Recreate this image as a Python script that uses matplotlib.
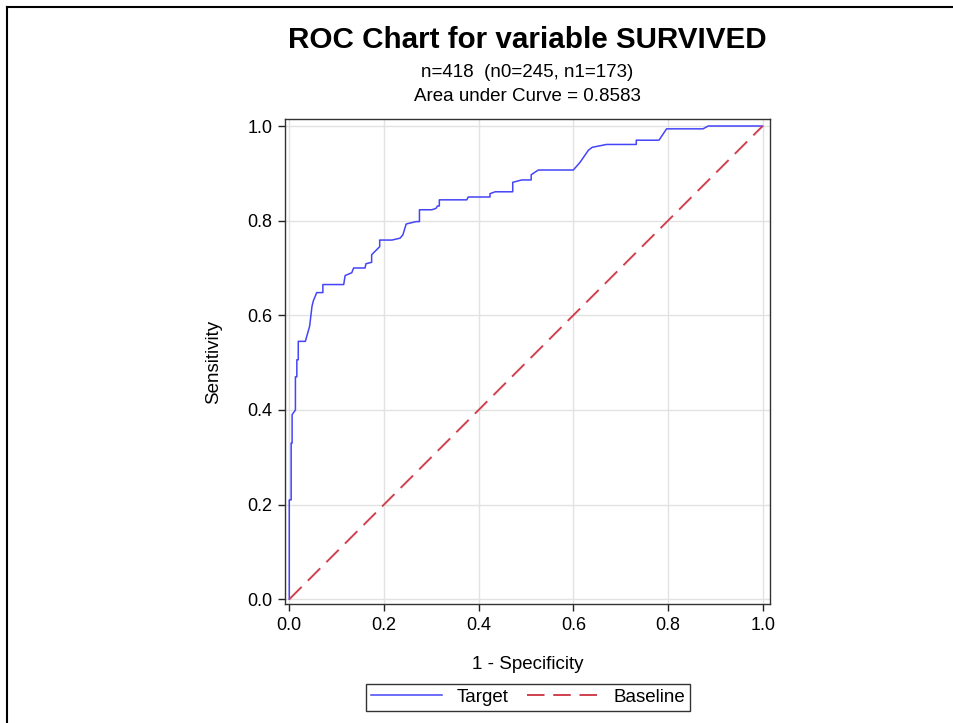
import numpy as np
import matplotlib.pyplot as plt
from matplotlib.lines import Line2D

plt.rcParams['font.family'] = ['Liberation Sans', 'DejaVu Sans']

# ROC curve (1 - specificity, sensitivity)
fpr = [0.0, 0.0, 0.004, 0.004, 0.006, 0.006, 0.013, 0.013, 0.016, 0.016,
       0.019, 0.019, 0.034, 0.043, 0.048, 0.051, 0.058, 0.071, 0.071, 0.115,
       0.118, 0.132, 0.136, 0.160, 0.162, 0.174, 0.174, 0.191, 0.191, 0.217,
       0.234, 0.240, 0.247, 0.268, 0.275, 0.275, 0.301, 0.310, 0.313, 0.317,
       0.317, 0.375, 0.378, 0.424, 0.424, 0.435, 0.472, 0.472, 0.491, 0.511,
       0.511, 0.526, 0.600, 0.614, 0.632, 0.640, 0.670, 0.733, 0.733, 0.781,
       0.797, 0.874, 0.885, 1.0]
tpr = [0.0, 0.21, 0.21, 0.33, 0.33, 0.39, 0.40, 0.47, 0.47, 0.506,
       0.506, 0.545, 0.545, 0.577, 0.619, 0.631, 0.648, 0.648, 0.665, 0.665,
       0.684, 0.690, 0.700, 0.700, 0.709, 0.712, 0.728, 0.745, 0.759, 0.759,
       0.763, 0.770, 0.793, 0.798, 0.798, 0.823, 0.823, 0.826, 0.831, 0.831,
       0.844, 0.844, 0.850, 0.850, 0.857, 0.861, 0.861, 0.881, 0.886, 0.886,
       0.897, 0.907, 0.907, 0.923, 0.949, 0.955, 0.961, 0.961, 0.970, 0.970,
       0.994, 0.994, 1.0, 1.0]
baseline = [0.0, 1.0]

ticks = [0.0, 0.2, 0.4, 0.6, 0.8, 1.0]
title = "ROC Chart for variable SURVIVED"
subtitle = ["n=418  (n0=245, n1=173)", "Area under Curve = 0.8583"]

fig = plt.figure(figsize=(9.54, 7.23), dpi=100)
ax = fig.add_axes([0.2984, 0.1642, 0.5087, 0.6716])

ax.plot(fpr, tpr, color='#4444f8', lw=1.1, label='Target', zorder=3)
ax.plot(baseline, baseline, color='#d0404f', lw=1.4, dashes=(9, 4.5),
        label='Baseline', zorder=3)

ax.set_xlim(-0.0097, 1.0154)
ax.set_ylim(-0.0106, 1.0154)
ax.set_xticks(ticks)
ax.set_yticks(ticks)
ax.set_xticklabels([f"{t:.1f}" for t in ticks], fontsize=13)
ax.set_yticklabels([f"{t:.1f}" for t in ticks], fontsize=13)
ax.tick_params(direction='out', length=5, width=1, color='#222222', pad=4)
ax.grid(True, color='#e2e2e2', lw=1.0, zorder=0)
ax.set_axisbelow(True)
for s in ax.spines.values():
    s.set_color('#333333')
    s.set_linewidth(1.0)

ax.set_xlabel("1 - Specificity", fontsize=13.5, labelpad=16)
ax.set_ylabel("Sensitivity", fontsize=13.5, labelpad=18)

fig.text(0.5528, 0.944, title, ha='center', va='center', fontsize=21.3,
         fontweight='bold')
fig.text(0.5528, 0.900, subtitle[0], ha='center', va='center', fontsize=13.5)
fig.text(0.5528, 0.866, subtitle[1], ha='center', va='center', fontsize=13.5)

leg = fig.legend(loc='center', bbox_to_anchor=(0.5535, 0.0355), ncol=2,
                 fontsize=13.5, frameon=True, fancybox=False,
                 handlelength=3.8, columnspacing=1.0, borderpad=0.25,
                 handletextpad=0.8)
leg.get_frame().set_edgecolor('#000000')
leg.get_frame().set_linewidth(1.0)

# outer border of the graph area
fig.add_artist(Line2D([7 / 954, 1.0], [1 - 7 / 723, 1 - 7 / 723],
                      transform=fig.transFigure, color='black', lw=1.5))
fig.add_artist(Line2D([7 / 954, 7 / 954], [0.0, 1 - 7 / 723],
                      transform=fig.transFigure, color='black', lw=1.5))

fig.savefig('out.png', dpi=100)
